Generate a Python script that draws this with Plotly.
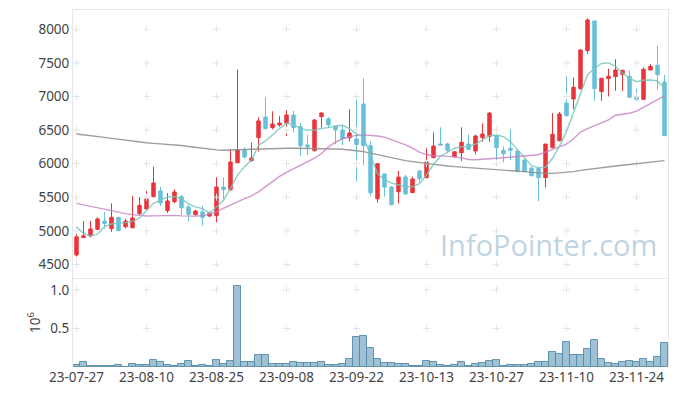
import plotly.graph_objects as go

dates = [
    "2023-07-27", "2023-07-28", "2023-07-31", "2023-08-01", "2023-08-02", "2023-08-03", "2023-08-04",
    "2023-08-07", "2023-08-08", "2023-08-09", "2023-08-10", "2023-08-11", "2023-08-14", "2023-08-16",
    "2023-08-17", "2023-08-18", "2023-08-21", "2023-08-22", "2023-08-23", "2023-08-24", "2023-08-25",
    "2023-08-28", "2023-08-29", "2023-08-30", "2023-08-31", "2023-09-01", "2023-09-04", "2023-09-05",
    "2023-09-06", "2023-09-07", "2023-09-08", "2023-09-11", "2023-09-12", "2023-09-13", "2023-09-14",
    "2023-09-15", "2023-09-18", "2023-09-19", "2023-09-20", "2023-09-21", "2023-09-22", "2023-09-25",
    "2023-09-26", "2023-09-27", "2023-10-04", "2023-10-05", "2023-10-06", "2023-10-10", "2023-10-11",
    "2023-10-12", "2023-10-13", "2023-10-16", "2023-10-17", "2023-10-18", "2023-10-19", "2023-10-20",
    "2023-10-23", "2023-10-24", "2023-10-25", "2023-10-26", "2023-10-27", "2023-10-30", "2023-10-31",
    "2023-11-01", "2023-11-02", "2023-11-03", "2023-11-06", "2023-11-07", "2023-11-08", "2023-11-09",
    "2023-11-10", "2023-11-13", "2023-11-14", "2023-11-15", "2023-11-16", "2023-11-17", "2023-11-20",
    "2023-11-21", "2023-11-22", "2023-11-23", "2023-11-24", "2023-11-27", "2023-11-28", "2023-11-29",
    "2023-11-30",
]

open_ = [4640, 4900, 4922, 5022, 5146, 5032, 5200, 5060, 5046, 5255, 5324, 5508, 5592, 5300, 5433,
         5508, 5354, 5240, 5280, 5220, 5225, 5652, 5612, 6014, 6203, 6044, 6387, 6694, 6535, 6575,
         6605, 6724, 6548, 6277, 6193, 6699, 6667, 6555, 6501, 6384, 6367, 6888, 6267, 5476, 5846,
         5652, 5582, 5800, 5568, 5890, 5791, 6089, 6292, 6292, 6104, 6163, 6292, 6188, 6386, 6405,
         6413, 6198, 6228, 6188, 6054, 5935, 5930, 5791, 6238, 6342, 6902, 6962, 7116, 7682, 8124,
         7072, 7265, 7295, 7330, 7300, 6987, 6957, 7394, 7464, 7215]
high = [4985, 5145, 5146, 5200, 5280, 5409, 5205, 5180, 5518, 5503, 5592, 5955, 5652, 5560, 5617,
        5533, 5389, 5310, 5369, 5285, 5796, 5796, 6218, 7404, 6243, 6312, 6689, 6987, 6779, 6705,
        6793, 6784, 6605, 6430, 6660, 6764, 6694, 6555, 6570, 6810, 6995, 7270, 6330, 6004, 5846,
        5660, 5890, 5830, 5806, 5905, 6228, 6466, 6540, 6310, 6190, 6540, 6436, 6431, 6600, 6770,
        6420, 6258, 6511, 6195, 6060, 5945, 5935, 6292, 6752, 6770, 7300, 7285, 7700, 8163, 8124,
        7275, 7414, 7553, 7400, 7384, 7116, 7434, 7483, 7751, 7320]
low = [4615, 4890, 4903, 5012, 5037, 4982, 4995, 5035, 5036, 5235, 5320, 5498, 5369, 5265, 5409,
       5235, 5141, 5230, 5076, 5205, 5126, 5468, 5597, 6004, 6074, 6029, 6178, 6510, 6510, 6550,
       6411, 6461, 6110, 6130, 6178, 6535, 6530, 6287, 6272, 6330, 5731, 5975, 5518, 5420, 5508,
       5380, 5408, 5540, 5560, 5720, 5780, 6080, 6272, 6160, 6090, 6039, 6200, 6138, 6327, 6327,
       6049, 6019, 6049, 5875, 5870, 5810, 5443, 5645, 6230, 6330, 6700, 6810, 7100, 7632, 6935,
       6935, 7000, 7083, 7081, 6980, 6940, 6950, 7390, 7100, 6410]
close = [4910, 4925, 5027, 5176, 5106, 5200, 5002, 5145, 5190, 5379, 5473, 5712, 5414, 5443, 5578,
         5344, 5245, 5295, 5200, 5260, 5652, 5612, 6024, 6203, 6099, 6084, 6635, 6520, 6590, 6605,
         6724, 6535, 6265, 6247, 6650, 6754, 6575, 6501, 6372, 6456, 6285, 6267, 5565, 5999, 5650,
         5388, 5800, 5548, 5770, 5775, 6024, 6262, 6277, 6198, 6176, 6317, 6213, 6411, 6441, 6752,
         6238, 6148, 6198, 5880, 5880, 5820, 5791, 6292, 6436, 6739, 6714, 7136, 7692, 8138, 7116,
         7270, 7300, 7394, 7389, 6987, 6952, 7404, 7449, 7325, 6416]

ma_short = [5061, 4960, 4925, 4950, 5061, 5100, 5111, 5121, 5136, 5190, 5300, 5409, 5458, 5505, 5508,
            5480, 5400, 5355, 5330, 5262, 5355, 5455, 5630, 5830, 5955, 6054, 6270, 6340, 6426, 6525,
            6600, 6585, 6525, 6496, 6501, 6525, 6535, 6560, 6570, 6520, 6440, 6400, 6130, 5850, 5760,
            5710, 5685, 5660, 5655, 5700, 5830, 5990, 6110, 6170, 6230, 6250, 6255, 6290, 6352, 6416,
            6426, 6401, 6327, 6203, 6079, 5970, 5940, 5945, 6080, 6260, 6480, 6750, 7050, 7320, 7420,
            7490, 7500, 7450, 7350, 7270, 7220, 7240, 7245, 7230, 7120]
ma_mid = [5408, 5385, 5360, 5338, 5315, 5295, 5275, 5255, 5240, 5228, 5220, 5222, 5228, 5232, 5230,
          5222, 5218, 5218, 5225, 5245, 5285, 5330, 5380, 5430, 5480, 5520, 5580, 5660, 5740, 5810,
          5870, 5920, 5970, 6030, 6080, 6150, 6250, 6320, 6370, 6400, 6420, 6428, 6425, 6412, 6395,
          6360, 6320, 6280, 6230, 6170, 6135, 6118, 6115, 6110, 6100, 6085, 6062, 6058, 6062, 6065,
          6080, 6088, 6095, 6110, 6120, 6125, 6132, 6170, 6210, 6255, 6290, 6370, 6470, 6520, 6560,
          6600, 6650, 6720, 6735, 6750, 6780, 6840, 6900, 6960, 7010]
ma_long = [6440, 6430, 6415, 6400, 6390, 6375, 6360, 6345, 6330, 6320, 6310, 6302, 6295, 6288, 6280,
           6270, 6255, 6240, 6228, 6215, 6205, 6200, 6200, 6205, 6210, 6213, 6218, 6222, 6225, 6227,
           6228, 6228, 6228, 6228, 6227, 6225, 6222, 6218, 6213, 6205, 6192, 6178, 6155, 6130, 6105,
           6085, 6065, 6045, 6030, 6015, 6003, 5992, 5980, 5965, 5955, 5948, 5940, 5935, 5930, 5925,
           5918, 5910, 5900, 5890, 5880, 5870, 5858, 5855, 5855, 5860, 5868, 5880, 5900, 5915, 5930,
           5945, 5955, 5965, 5975, 5985, 5995, 6008, 6020, 6035, 6045]

volume = [25000, 60000, 10000, 10000, 10000, 10000, 25000, 5000, 40000, 30000, 30000, 90000, 60000,
          25000, 10000, 40000, 75000, 10000, 25000, 10000, 90000, 40000, 75000, 1050000, 60000, 60000,
          160000, 150000, 40000, 40000, 40000, 60000, 50000, 50000, 50000, 60000, 25000, 25000, 40000,
          100000, 390000, 400000, 250000, 100000, 50000, 50000, 40000, 40000, 10000, 10000, 75000,
          60000, 25000, 10000, 25000, 60000, 10000, 40000, 50000, 75000, 85000, 10000, 25000, 25000,
          25000, 40000, 60000, 70000, 190000, 175000, 325000, 160000, 160000, 240000, 350000, 100000,
          50000, 40000, 60000, 75000, 60000, 100000, 60000, 125000, 310000]

price_ticks = [4500, 5000, 5500, 6000, 6500, 7000, 7500, 8000]
vol_ticks = [0.5, 1.0]
tick_dates = dates[::10]
tick_text = [d[2:] for d in tick_dates]

vol_m = [v / 1e6 for v in volume]

BORDER = "#e6e6e6"
FONT = "Noto Sans"
split = 0.2493

fig = go.Figure()

# faint grid crosses at tick intersections
fig.add_trace(go.Scatter(
    x=[d for d in tick_dates for _ in price_ticks],
    y=[p for _ in tick_dates for p in price_ticks],
    mode="markers", xaxis="x2", yaxis="y2",
    marker=dict(symbol="cross-thin", size=5, line=dict(color="#e4e4e4", width=1)),
    hoverinfo="skip", showlegend=False))
fig.add_trace(go.Scatter(
    x=[d for d in tick_dates for _ in vol_ticks],
    y=[p for _ in tick_dates for p in vol_ticks],
    mode="markers", xaxis="x", yaxis="y",
    marker=dict(symbol="cross-thin", size=5, line=dict(color="#e4e4e4", width=1)),
    hoverinfo="skip", showlegend=False))

for vals, col in [(ma_long, "rgba(140,140,140,0.85)"),
                  (ma_mid, "rgba(200,125,195,0.8)"),
                  (ma_short, "rgba(120,198,185,0.85)")]:
    fig.add_trace(go.Scatter(x=dates, y=vals, mode="lines", xaxis="x2", yaxis="y2",
                             line=dict(color=col, width=1.4), hoverinfo="skip",
                             showlegend=False))

fig.add_trace(go.Candlestick(
    x=dates, open=open_, high=high, low=low, close=close, xaxis="x2", yaxis="y2",
    increasing=dict(line=dict(color="#e8353b", width=1), fillcolor="#e8353b"),
    decreasing=dict(line=dict(color="#68c0d8", width=1), fillcolor="#68c0d8"),
    showlegend=False))

fig.add_trace(go.Bar(
    x=dates, y=vol_m, xaxis="x", yaxis="y",
    marker=dict(color="rgba(125,172,196,0.75)", line=dict(color="rgba(85,140,170,0.9)", width=1)),
    showlegend=False))

# page body has an 8px margin: figure is placed at (8, 8) in the window
fig.update_layout(
    width=669, height=388,
    margin=dict(l=65, r=9, t=2, b=29, autoexpand=False),
    paper_bgcolor="white", plot_bgcolor="white",
    font=dict(family=FONT, size=13.5, color="#444444"),
    bargap=0,
    xaxis=dict(type="category", categoryorder="array", categoryarray=dates,
               range=[-0.5, len(dates) - 0.5], tickmode="array",
               tickvals=tick_dates, ticktext=tick_text, showgrid=False,
               showline=False, ticks="", zeroline=False, rangeslider=dict(visible=False),
               anchor="y", domain=[0, 1], automargin=False),
    xaxis2=dict(type="category", categoryorder="array", categoryarray=dates,
                matches="x", showticklabels=False, showgrid=False,
                showline=True, mirror=True, linecolor=BORDER, linewidth=1,
                ticks="", zeroline=False, rangeslider=dict(visible=False),
                anchor="y2", domain=[0, 1], automargin=False),
    yaxis=dict(domain=[0, split], range=[0, 1.155], tickvals=vol_ticks,
               tickformat=".1f", showgrid=False, zeroline=False,
               showline=True, mirror=True, linecolor=BORDER, linewidth=1,
               title=dict(text="10<sup>6</sup>", standoff=6, font=dict(size=13.5)),
               anchor="x", automargin=False),
    yaxis2=dict(domain=[split, 1], range=[4297, 8287], tickvals=price_ticks,
                showgrid=False, zeroline=False,
                showline=True, mirror=True, linecolor=BORDER, linewidth=1,
                anchor="x2", automargin=False),
    annotations=[dict(text="InfoPointer.com", xref="paper", yref="paper",
                      x=0.985, y=split + 0.035, xanchor="right", yanchor="bottom",
                      showarrow=False,
                      font=dict(family="Open Sans", size=29, color="rgba(160,190,210,0.68)"))],
)

fig.write_html("out.html")
